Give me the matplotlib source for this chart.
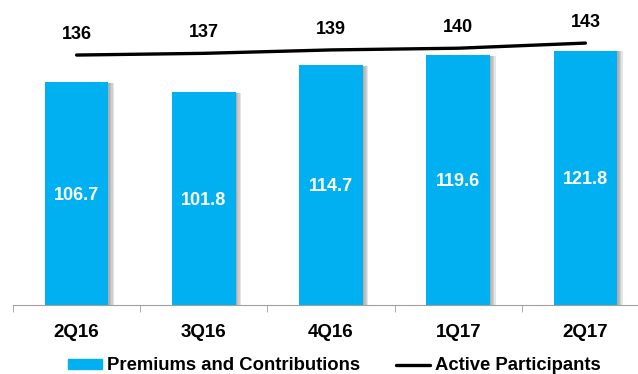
import matplotlib.pyplot as plt
import matplotlib.patheffects as pe
import numpy as np

plt.rcParams['font.family'] = ['Liberation Sans', 'DejaVu Sans']

quarters = ['2Q16', '3Q16', '4Q16', '1Q17', '2Q17']
premiums = [106.7, 101.8, 114.7, 119.6, 121.8]
participants = [136, 137, 139, 140, 143]

bar_color = '#00B0F0'
x = np.arange(len(quarters))

fig = plt.figure(figsize=(6.38, 3.74), dpi=100)
ax = fig.add_axes([13 / 638, 1 - 305 / 374, 636 / 638, 305 / 374])

# soft shadow on the right edge of each bar
shadow = [pe.SimplePatchShadow(offset=(k, -0.5), shadow_rgbFace='#707070', alpha=0.18)
          for k in (4, 3, 2, 1)]
bars = ax.bar(x, premiums, width=0.5, color=bar_color, zorder=2,
              path_effects=shadow + [pe.Normal()])
for xi, v in zip(x, premiums):
    ax.text(xi, v / 2 - 0.8, f'{v:.1f}', ha='center', va='center', color='white',
            fontsize=13, fontweight='bold', zorder=3)

ax.set_xlim(-0.5, len(quarters) - 0.5)
ax.set_ylim(0, 146)
ax.set_yticks([])
for s in ['top', 'right', 'left']:
    ax.spines[s].set_visible(False)
ax.spines['bottom'].set_color('#a0a0a0')
ax.set_xticks(x)
ax.set_xticklabels(quarters, fontsize=13.5, fontweight='bold')
ax.set_xticks(np.arange(len(quarters) + 1) - 0.5, minor=True)
ax.tick_params(axis='x', which='major', length=0, pad=14)
ax.tick_params(axis='x', which='minor', length=5, color='#a0a0a0')

# participants on a secondary scale
ax2 = ax.twinx()
ax2.set_ylim(-10.2, 168.2)
ax2.axis('off')
line, = ax2.plot(x, participants, color='black', lw=2.4, solid_capstyle='round', zorder=4)
for xi, v in zip(x, participants):
    ax2.annotate(str(v), (xi, v), xytext=(0, 15), textcoords='offset points',
                 ha='center', va='center', fontsize=13, fontweight='bold')

handles = [plt.Rectangle((0, 0), 1, 1, color=bar_color), line]
fig.legend(handles, ['Premiums and Contributions', 'Active Participants'],
           loc='center', bbox_to_anchor=(0.524, 1 - 366 / 374), ncol=2, frameon=False,
           prop={'size': 13.3, 'weight': 'bold'}, handlelength=1.85, handleheight=0.4,
           handletextpad=0.3, columnspacing=1.9)

fig.savefig('out.png', dpi=100)
